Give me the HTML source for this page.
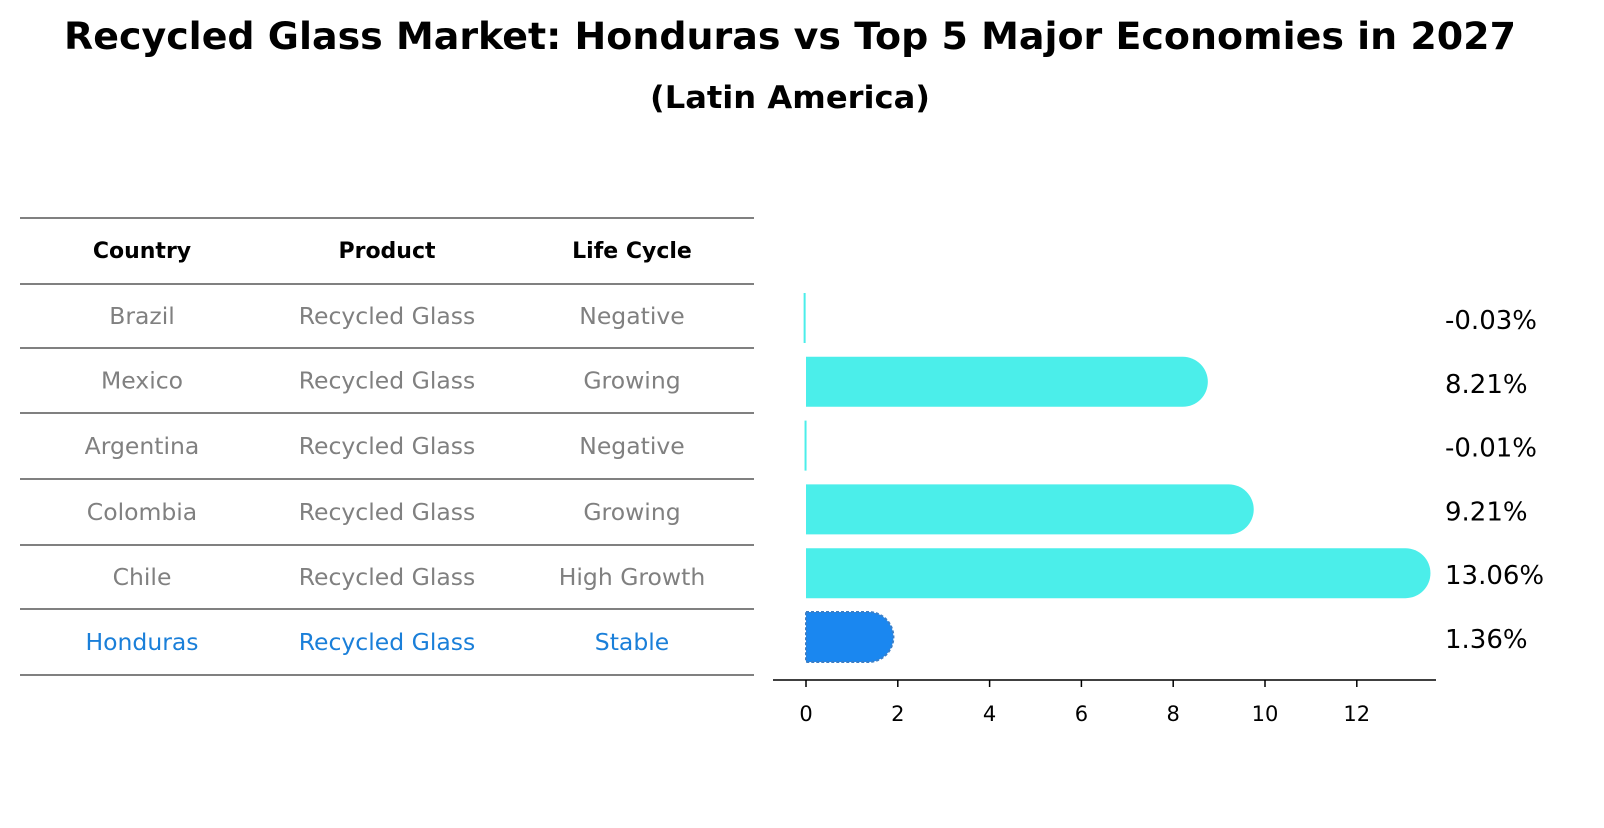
<!DOCTYPE html>
<html><head><meta charset="utf-8"><style>
body{margin:0;background:#fff;font-family:"Liberation Sans","DejaVu Sans",sans-serif;}
</style></head><body>
<svg width="1604" height="823" viewBox="0 0 1604 823" xmlns="http://www.w3.org/2000/svg" font-family="DejaVu Sans, Liberation Sans, sans-serif">
<text x="790" y="49" text-anchor="middle" font-size="37" font-weight="bold" textLength="1452" lengthAdjust="spacingAndGlyphs">Recycled Glass Market: Honduras vs Top 5 Major Economies in 2027</text>
<text x="790" y="108" text-anchor="middle" font-size="31" font-weight="bold" textLength="280" lengthAdjust="spacingAndGlyphs">(Latin America)</text>
<g id="table"></g>
<g id="bars"></g>
</svg>
<script>
const countries=["Brazil","Mexico","Argentina","Colombia","Chile","Honduras"];
const products=["Recycled Glass","Recycled Glass","Recycled Glass","Recycled Glass","Recycled Glass","Recycled Glass"];
const lifeCycles=["Negative","Growing","Negative","Growing","High Growth","Stable"];
const values=[-0.03,8.21,-0.01,9.21,13.06,1.36];
const valueLabels=["-0.03%","8.21%","-0.01%","9.21%","13.06%","1.36%"];
const ticks=[0,2,4,6,8,10,12];
const NS="http://www.w3.org/2000/svg";
function mk(t,a,p,txt){const e=document.createElementNS(NS,t);for(const k in a)e.setAttribute(k,a[k]);if(txt!==undefined)e.textContent=txt;p.appendChild(e);return e;}
const tb=document.getElementById('table');
const lines=[218,284,348,413,479,545,609,675];
lines.forEach((y,i)=>{const l=mk('line',{x1:20,x2:754,y1:y,y2:y,stroke:'#000','stroke-width':1},tb);

});
const cx=[142,387,632];
["Country","Product","Life Cycle"].forEach((h,i)=>{const t=mk('text',{x:cx[i],y:258,'text-anchor':'middle','font-size':22,'font-weight':'bold'},tb,h);

});
countries.forEach((c,r)=>{const y=(lines[r+1]+lines[r+2])/2+8;const col=r==5?'#1a7fd9':'#808080';
[c,products[r],lifeCycles[r]].forEach((v,i)=>{const t=mk('text',{x:cx[i],y:y,'text-anchor':'middle','font-size':23.5,fill:col},tb,v);

});});
const bg=document.getElementById('bars');
const x0=806,ppu=45.9;const X=v=>x0+v*ppu;
const rowY=r=>318+r*63.8;const h=50;
values.forEach((v,r)=>{const cy=rowY(r),y1=cy-h/2;const xe=X(v);const hon=r==5;
let el;
if(Math.abs(xe-x0)<3){el=mk('rect',{x:Math.min(x0,xe)-1,y:y1,width:2,height:h,fill:'#4beeea'},bg);}
else{const d=`M${x0},${y1} L${xe},${y1} A${h/2},${h/2} 0 0 1 ${xe},${y1+h} L${x0},${y1+h} Z`;
el=mk('path',{d:d,fill:hon?'#1a87f0':'#4beeea',stroke:hon?'#3a7fc8':'none','stroke-width':hon?2:0,'stroke-dasharray':hon?'3,2':''},bg);}


const t=mk('text',{x:1445,y:cy+11,'font-size':26},bg,valueLabels[r]);

});
const ax=mk('line',{x1:773,x2:1436,y1:680,y2:680,stroke:'#000','stroke-width':1.5},bg);


ticks.forEach(v=>{const tk=mk('line',{x1:X(v),x2:X(v),y1:680,y2:687,stroke:'#000','stroke-width':1.5},bg);


const t=mk('text',{x:X(v),y:721,'text-anchor':'middle','font-size':21},bg,String(v));

});
</script>
</body></html>
